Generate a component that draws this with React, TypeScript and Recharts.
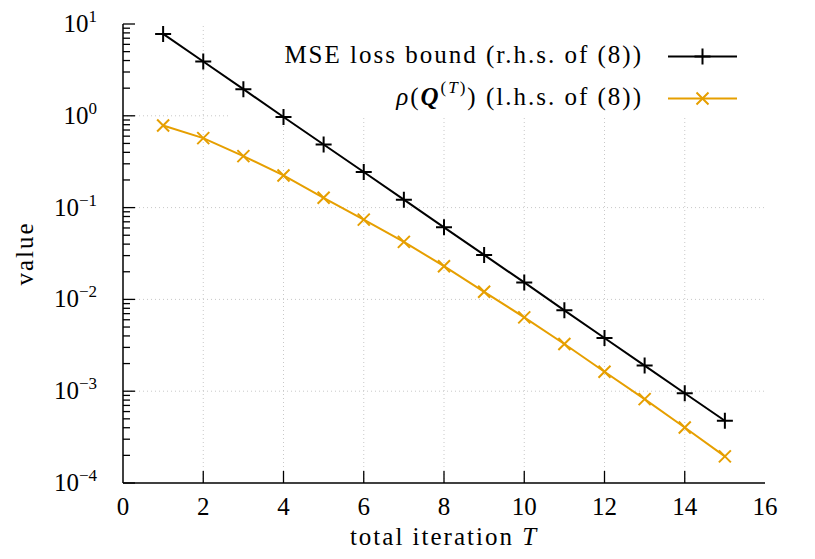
import React from "react";
import {
  LineChart,
  Line,
  XAxis,
  YAxis,
  ReferenceLine,
  ReferenceArea,
  Legend,
} from "recharts";

// values
const iterations = [1, 2, 3, 4, 5, 6, 7, 8, 9, 10, 11, 12, 13, 14, 15];
const mseBound = [
  7.8, 3.9, 1.95, 0.97, 0.487, 0.244, 0.122, 0.061, 0.0305, 0.0153, 0.0076,
  0.0038, 0.0019, 0.00095, 0.000476,
];
const rhoQ = [
  0.785, 0.571, 0.364, 0.224, 0.128, 0.074, 0.0423, 0.023, 0.0121, 0.00637,
  0.00327, 0.00163, 0.00082, 0.000402, 0.000195,
];

const xTicks = [0, 2, 4, 6, 8, 10, 12, 14, 16];
const xGrid = [2, 4, 6, 8, 10, 12, 14];
const yMajor = [1e-4, 1e-3, 1e-2, 1e-1, 1, 10];
const yGrid = [1e-3, 1e-2, 1e-1, 1];
const yMinorSteps = [2, 3, 4, 5, 6, 7, 8, 9];
const yTicks = [
  ...yMajor,
  ...yMajor.slice(0, -1).flatMap((d) => yMinorSteps.map((m) => m * d)),
].sort((a, b) => a - b);

// area kept clear of grid lines behind the key
const KEY_BOX = { x1: 2.62, x2: 16, y1: 0.96, y2: 10 };

const data = iterations.map((t, i) => ({ t, mse: mseBound[i], rho: rhoQ[i] }));

const FONT = "'Liberation Serif', 'DejaVu Serif', serif";
const FS = 25;
const LS = 2; // letter spacing to get closer to the wide TeX font
const ORANGE = "#e69f00";
const AXIS = { stroke: "#000", strokeWidth: 1.5 };

const isMajor = (v: number) =>
  Math.abs(Math.log10(v) - Math.round(Math.log10(v))) < 1e-6;

const expLabel = (v: number) => {
  const e = Math.round(Math.log10(v));
  return e < 0 ? `\u2212${-e}` : `${e}`;
};

function LeftTick({ x, y, payload }: any) {
  const v = payload.value;
  const major = isMajor(v);
  const ax = x + 26;
  return (
    <g>
      <line x1={ax} x2={ax + (major ? 12 : 7)} y1={y} y2={y} stroke="#000" strokeWidth={1.3} />
      {major && (
        <text x={x} y={y + 8} textAnchor="end" fontFamily={FONT} fontSize={FS} fill="#000">
          10
          <tspan dy={-10} fontSize={17}>
            {expLabel(v)}
          </tspan>
        </text>
      )}
    </g>
  );
}

function RightTick({ x, y, payload }: any) {
  const major = isMajor(payload.value);
  return <line x1={x} x2={x - (major ? 12 : 7)} y1={y} y2={y} stroke="#000" strokeWidth={1.3} />;
}

function BottomTick({ x, y, payload }: any) {
  const edge = payload.value === 0 || payload.value === 16;
  return (
    <g>
      {!edge && <line x1={x} x2={x} y1={y} y2={y - 12} stroke="#000" strokeWidth={1.3} />}
      <text x={x} y={y + 32} textAnchor="middle" fontFamily={FONT} fontSize={FS} fill="#000">
        {payload.value}
      </text>
    </g>
  );
}

function TopTick({ x, y, payload }: any) {
  if (payload.value === 0 || payload.value === 16) return <g />;
  return <line x1={x} x2={x} y1={y} y2={y + 12} stroke="#000" strokeWidth={1.3} />;
}

function XLabel({ viewBox }: any) {
  const cx = viewBox.x + viewBox.width / 2;
  return (
    <text x={cx} y={545} textAnchor="middle" fontFamily={FONT} fontSize={FS} letterSpacing={LS} fill="#000">
      total iteration <tspan fontStyle="italic">T</tspan>
    </text>
  );
}

function YLabel({ viewBox }: any) {
  const cy = viewBox.y + viewBox.height / 2;
  const cx = 33;
  return (
    <text
      x={cx}
      y={cy}
      transform={`rotate(-90 ${cx} ${cy})`}
      textAnchor="middle"
      fontFamily={FONT}
      fontSize={FS}
      letterSpacing={LS}
      fill="#000"
    >
      value
    </text>
  );
}

const plusPath = (cx: number, cy: number, r: number) =>
  `M${cx - r},${cy}H${cx + r}M${cx},${cy - r}V${cy + r}`;
const crossPath = (cx: number, cy: number, r: number) =>
  `M${cx - r},${cy - r}L${cx + r},${cy + r}M${cx - r},${cy + r}L${cx + r},${cy - r}`;

const PlusDot = ({ cx, cy, index }: any) => (
  <path key={`p-${index}`} d={plusPath(cx, cy, 8)} stroke="#000" strokeWidth={2} fill="none" />
);
const CrossDot = ({ cx, cy, index }: any) => (
  <path key={`c-${index}`} d={crossPath(cx, cy, 6)} stroke={ORANGE} strokeWidth={2} fill="none" />
);

function KeyContent() {
  return (
    <svg width={815} height={130} style={{ display: "block" }}>
      <text x={643} y={63} textAnchor="end" fontFamily={FONT} fontSize={FS} letterSpacing={LS} fill="#000">
        MSE loss bound (r.h.s. of (8))
      </text>
      <line x1={668} x2={737} y1={56.5} y2={56.5} stroke="#000" strokeWidth={2} />
      <path d={plusPath(702.5, 56.5, 8)} stroke="#000" strokeWidth={2} />
      <text x={643} y={105} textAnchor="end" fontFamily={FONT} fontSize={FS} letterSpacing={LS} fill="#000">
        <tspan fontStyle="italic">ρ</tspan>(
        <tspan fontWeight="bold" fontStyle="italic">Q</tspan>
        <tspan dy={-12} fontSize={17}>(</tspan>
        <tspan fontSize={17} fontStyle="italic">T</tspan>
        <tspan fontSize={17}>)</tspan>
        <tspan dy={12}>) (l.h.s. of (8))</tspan>
      </text>
      <line x1={668} x2={737} y1={98.5} y2={98.5} stroke={ORANGE} strokeWidth={2} />
      <path d={crossPath(702.5, 98.5, 6)} stroke={ORANGE} strokeWidth={2} />
    </svg>
  );
}

export default function App() {
  return (
    <div style={{ position: "absolute", left: 0, top: 0, background: "#fff" }}>
      <LineChart
        width={815}
        height={559}
        data={data}
        margin={{ top: 24, right: 50, bottom: 0, left: 0 }}
      >
        <XAxis
          xAxisId="b"
          dataKey="t"
          type="number"
          domain={[0, 16]}
          ticks={xTicks}
          interval={0}
          allowDataOverflow
          height={76}
          tickSize={0}
          tickMargin={0}
          tickLine={false}
          axisLine={AXIS}
          tick={<BottomTick />}
          label={<XLabel />}
        />
        <XAxis
          xAxisId="top"
          orientation="top"
          type="number"
          domain={[0, 16]}
          ticks={xTicks}
          interval={0}
          allowDataOverflow
          height={0}
          tickSize={0}
          tickMargin={0}
          tickLine={false}
          axisLine={AXIS}
          tick={<TopTick />}
        />
        <YAxis
          yAxisId="l"
          scale="log"
          type="number"
          domain={[1e-4, 10]}
          ticks={yTicks}
          interval={0}
          allowDataOverflow
          width={123}
          tickSize={0}
          tickMargin={26}
          tickLine={false}
          axisLine={AXIS}
          tick={<LeftTick />}
          label={<YLabel />}
        />
        <YAxis
          yAxisId="r"
          orientation="right"
          scale="log"
          type="number"
          domain={[1e-4, 10]}
          ticks={yTicks}
          interval={0}
          allowDataOverflow
          width={0}
          tickSize={0}
          tickMargin={0}
          tickLine={false}
          axisLine={AXIS}
          tick={<RightTick />}
        />
        {xGrid.map((v) => (
          <ReferenceLine
            key={`gx-${v}`}
            x={v}
            xAxisId="b"
            yAxisId="l"
            stroke="#c8c8c8"
            strokeWidth={1}
            strokeDasharray="1 3"
            zIndex={-90}
          />
        ))}
        {yGrid.map((v) => (
          <ReferenceLine
            key={`gy-${v}`}
            y={v}
            xAxisId="b"
            yAxisId="l"
            stroke="#c8c8c8"
            strokeWidth={1}
            strokeDasharray="1 3"
            zIndex={-90}
          />
        ))}
        <ReferenceArea
          xAxisId="b"
          yAxisId="l"
          {...KEY_BOX}
          fill="#fff"
          fillOpacity={1}
          stroke="none"
          ifOverflow="hidden"
          zIndex={-80}
        />
        <Line
          xAxisId="b"
          yAxisId="l"
          dataKey="mse"
          stroke="#000"
          strokeWidth={2}
          dot={PlusDot}
          activeDot={false}
          isAnimationActive={false}
        />
        <Line
          xAxisId="b"
          yAxisId="l"
          dataKey="rho"
          stroke={ORANGE}
          strokeWidth={2}
          dot={CrossDot}
          activeDot={false}
          isAnimationActive={false}
        />
        <Legend
          layout="horizontal"
          align="center"
          verticalAlign="middle"
          content={<KeyContent />}
          wrapperStyle={{ position: "absolute", left: 0, top: 0, width: 815, height: 130, pointerEvents: "none" }}
        />
      </LineChart>
    </div>
  );
}
